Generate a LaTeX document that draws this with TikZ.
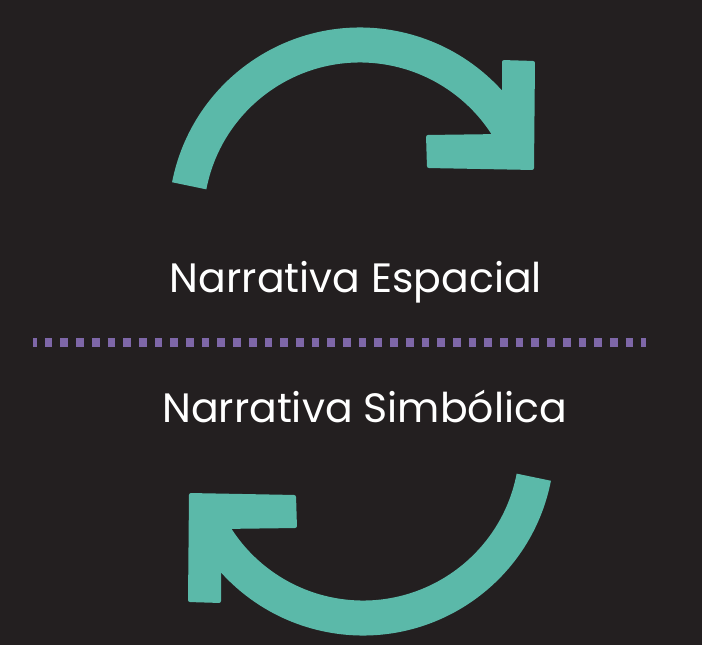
\documentclass[tikz,border=0pt]{standalone}
\usepackage{fontspec}
\setmainfont{Poppins}
\definecolor{bg}{HTML}{231F20}
\definecolor{teal}{HTML}{5BB9A9}
\definecolor{purp}{HTML}{7E67A8}
\begin{document}
\begin{tikzpicture}[x=1pt,y=-1pt,
  arcband/.style={draw=teal,line width=35pt,line cap=butt},
  headshape/.style={fill=teal,rounded corners=2pt},
  label/.style={text=white,font=\fontsize{41}{49}\selectfont,anchor=base,inner sep=0pt}]
\fill[bg] (0,0) rectangle (702,645);
\useasboundingbox (0,0) rectangle (702,645);
% top arrow
\begin{scope}
  \draw[arcband] (189.2,185.8) arc[start angle=-169,end angle=-30,radius=174];
  \fill[headshape] (502,60) -- (535,61) -- (534,170) -- (427,168) -- (426,135) -- (502,134) -- cycle;
\end{scope}
% bottom arrow (rotated copy)
\begin{scope}[rotate around={180:(361.5,331.5)}]
  \draw[arcband] (189.2,185.8) arc[start angle=-169,end angle=-30,radius=174];
  \fill[headshape] (502,60) -- (535,61) -- (534,170) -- (427,168) -- (426,135) -- (502,134) -- cycle;
\end{scope}
\node[label] (esp) at (356,292) {Narrativa Espacial};
\node[label] (sim) at (364.5,422.7) {Narrativa Simbólica};
\coordinate (l0) at (33.3,342);
\coordinate (l1) at (645.7,342);
\draw[purp,line width=9pt,dash pattern=on 7.7pt off 8pt,dash phase=4.3pt] (l0) -- (l1);
\end{tikzpicture}
\end{document}
